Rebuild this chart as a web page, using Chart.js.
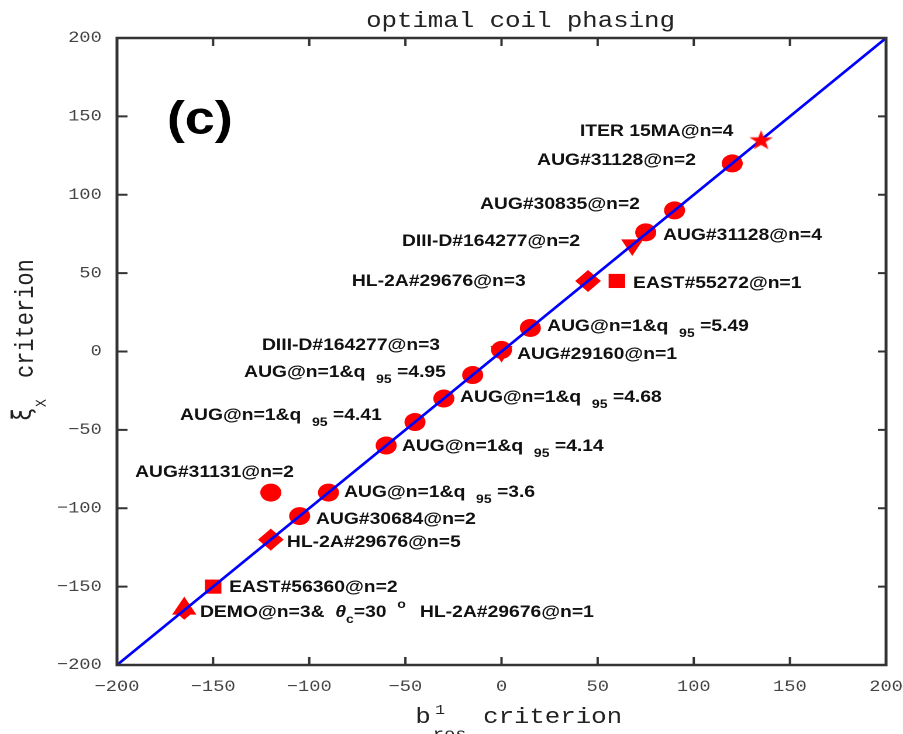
<!DOCTYPE html>
<html>
<head>
<meta charset="utf-8">
<script src="https://cdn.jsdelivr.net/npm/chart.js@4.4.1/dist/chart.umd.min.js"></script>
<style>
  html, body { margin: 0; padding: 0; background: #fff; overflow: hidden; }
  /* the source figure is stretched horizontally, so is this one */
  #wrap { width: 772px; height: 734px; transform: scaleX(1.1697); transform-origin: 0 0; }
</style>
</head>
<body>
<div id="wrap"><canvas id="chart" width="772" height="734"></canvas></div>
<script>
const axisMin = -200;
const axisMax = 200;
const axisStep = 50;

// y = x reference line
const diagX = [-200, 200];
const diagY = [-200, 200];

// AUG shots (filled circles)
const circleX = [120, 90, 75, 15, 0, -15, -30, -45, -60, -90, -105, -120];
const circleY = [120, 90, 76, 15, 1, -15, -30, -45, -60, -90, -105, -90];
// HL-2A (diamonds)
const diamondX = [45, -120, -165];
const diamondY = [45, -120, -166];
// EAST (squares)
const squareX = [60, -150];
const squareY = [45, -150];
// DEMO (triangle up)
const triUpX = [-165];
const triUpY = [-164];
// DIII-D (triangle down)
const triDownX = [68, 0];
const triDownY = [68, 0];
// ITER (star)
const starX = [135];
const starY = [135];

// annotations, anchored in data units (left edge, text middle)
const labelText = [
    "ITER 15MA@n=4",
    "AUG#31128@n=2",
    "AUG#30835@n=2",
    "AUG#31128@n=4",
    "DIII-D#164277@n=2",
    "HL-2A#29676@n=3",
    "EAST#55272@n=1",
    "AUG@n=1&q  _{95} =5.49",
    "DIII-D#164277@n=3",
    "AUG#29160@n=1",
    "AUG@n=1&q  _{95} =4.95",
    "AUG@n=1&q  _{95} =4.68",
    "AUG@n=1&q  _{95} =4.41",
    "AUG@n=1&q  _{95} =4.14",
    "AUG#31131@n=2",
    "AUG@n=1&q  _{95} =3.6",
    "AUG#30684@n=2",
    "HL-2A#29676@n=5",
    "EAST#56360@n=2",
    "DEMO@n=3&  *{θ}_{c}=30  ^{o}",
    "HL-2A#29676@n=1",
];
const labelX = [40.8, 18.5, -11.2, 84, -51.8, -77.8, 68.4, 23.7, -124.6, 8.1, -133.9,
    -21.6, -167.2, -51.8, -190.6, -81.9, -96.5, -111.6, -141.7, -156.8, -42.4];
const labelY = [141.3, 122.8, 94.7, 75, 71.1, 45.6, 44.3, 16.9, 4.8, -1, -12.4,
    -28.4, -39.9, -59.6, -76.2, -89, -106.2, -120.9, -149.6, -165.6, -165.6];

const panelTag = "(c)";
const panelX = -174;
const panelY = 139;

const pts = (xs, ys) => xs.map((v, i) => ({ x: v, y: ys[i] }));

// filled five point star for ITER
const star = document.createElement("canvas");
star.width = 24;
star.height = 24;
(() => {
    const c = star.getContext("2d");
    const R = 10.5, r = 4.2, cx = 12, cy = 12.8;
    c.fillStyle = "#ff0000";
    c.beginPath();
    for (let k = 0; k < 10; k++) {
        const rad = k % 2 ? r : R;
        const ang = -Math.PI / 2 + (k * Math.PI) / 5;
        c.lineTo(cx + rad * Math.cos(ang), cy + rad * Math.sin(ang));
    }
    c.closePath();
    c.fill();
})();

function richText(ctx, str, x, y, size) {
    const parts = str.split(/(_\{[^}]*\}|\^\{[^}]*\}|\*\{[^}]*\})/).filter((s) => s);
    let cx = x;
    parts.forEach((p) => {
        let t = p, fs = size, dy = 0, style = "bold ";
        if (p[0] === "_" && p[1] === "{") { t = p.slice(2, -1); fs = 12; dy = 6; }
        else if (p[0] === "^" && p[1] === "{") { t = p.slice(2, -1); fs = 12; dy = -9; }
        else if (p[0] === "*" && p[1] === "{") { t = p.slice(2, -1); style = "italic bold "; }
        ctx.font = style + fs + 'px "Liberation Sans", Arial, sans-serif';
        ctx.fillText(t, cx, y + dy);
        cx += ctx.measureText(t).width;
    });
}

const decor = {
    id: "decor",
    afterDraw(chart) {
        const { ctx, chartArea: a, scales: { x, y } } = chart;
        ctx.save();

        // inward ticks on all four sides
        ctx.strokeStyle = "#333";
        ctx.lineWidth = 2;
        ctx.beginPath();
        x.ticks.forEach((t) => {
            const px = x.getPixelForValue(t.value);
            ctx.moveTo(px, a.bottom);
            ctx.lineTo(px, a.bottom - 8);
            ctx.moveTo(px, a.top);
            ctx.lineTo(px, a.top + 8);
        });
        y.ticks.forEach((t) => {
            const py = y.getPixelForValue(t.value);
            ctx.moveTo(a.left, py);
            ctx.lineTo(a.left + 9, py);
            ctx.moveTo(a.right, py);
            ctx.lineTo(a.right - 7, py);
        });
        ctx.stroke();
        ctx.lineWidth = 2.5;
        ctx.strokeRect(a.left, a.top, a.right - a.left, a.bottom - a.top);

        // title
        ctx.fillStyle = "#222";
        ctx.textBaseline = "alphabetic";
        ctx.textAlign = "center";
        ctx.font = '22px "Liberation Mono", monospace';
        ctx.fillText("optimal coil phasing", 445, 27);

        // x axis title: b^1_res criterion
        ctx.textAlign = "left";
        ctx.fillText("b", 355, 723);
        ctx.font = '14px "Liberation Mono", monospace';
        ctx.fillText("1", 372, 714);
        ctx.font = '16px "Liberation Mono", monospace';
        ctx.fillText("res", 370, 739);
        ctx.font = '22px "Liberation Mono", monospace';
        ctx.fillText("criterion", 413, 723);

        // y axis title: xi_X criterion
        ctx.save();
        ctx.translate(28, 421);
        ctx.rotate(-Math.PI / 2);
        ctx.font = '22px "DejaVu Sans Mono", monospace';
        ctx.fillText("ξ", 0, -2);
        ctx.font = '13px "Liberation Mono", monospace';
        ctx.fillText("X", 14, 11);
        ctx.font = '22px "Liberation Mono", monospace';
        ctx.fillText("criterion", 43, 0);
        ctx.restore();

        // panel tag
        ctx.fillStyle = "#000";
        ctx.font = 'bold 46px "Liberation Sans", Arial, sans-serif';
        ctx.fillText(panelTag, x.getPixelForValue(panelX), y.getPixelForValue(panelY));

        // point annotations
        ctx.fillStyle = "#111";
        labelText.forEach((s, i) => {
            richText(ctx, s, x.getPixelForValue(labelX[i]), y.getPixelForValue(labelY[i]) + 6, 16.5);
        });
        ctx.restore();
    },
};

const red = "#ff0000";
const marker = (data, style, radius, rotation) => ({
    type: "scatter",
    data,
    pointStyle: style,
    pointRadius: radius,
    pointRotation: rotation || 0,
    backgroundColor: red,
    borderColor: red,
    borderWidth: 0,
});

const tickFont = { family: '"Liberation Mono", "DejaVu Sans Mono", monospace', size: 16 };
const tickText = (v) => String(v).replace("-", "\u2212");

// first dataset ends up on top
new Chart(document.getElementById("chart"), {
    type: "scatter",
    data: {
        datasets: [
            marker(pts(starX, starY), star, 10),
            {
                type: "line",
                data: pts(diagX, diagY),
                borderColor: "#0000ff",
                borderWidth: 2.5,
                pointRadius: 0,
                fill: false,
            },
            marker(pts(triUpX, triUpY), "triangle", 12),
            marker(pts(triDownX, triDownY), "triangle", 11, 180),
            marker(pts(circleX, circleY), "circle", 9),
            marker(pts(diamondX, diamondY), "rectRot", [11, 11, 8]),
            marker(pts(squareX, squareY), "rect", 10),
        ],
    },
    options: {
        responsive: false,
        animation: false,
        devicePixelRatio: 2,
        layout: { padding: { top: 38, right: 14.5, left: 0, bottom: 0 } },
        plugins: {
            legend: { display: false },
            tooltip: { enabled: false },
            title: { display: false },
        },
        scales: {
            x: {
                type: "linear",
                min: axisMin,
                max: axisMax,
                grid: { display: false, drawTicks: false },
                border: { display: false },
                ticks: { stepSize: axisStep, font: tickFont, color: "#444", padding: 12, maxRotation: 0, callback: tickText },
                afterFit(s) {
                    s.height = 69;
                    s.paddingLeft = 0;
                    s.paddingRight = 0;
                },
            },
            y: {
                type: "linear",
                min: axisMin,
                max: axisMax,
                grid: { display: false, drawTicks: false },
                border: { display: false },
                ticks: { stepSize: axisStep, font: tickFont, color: "#444", padding: 13, callback: tickText },
                afterFit(s) {
                    s.width = 100;
                    s.paddingTop = 0;
                    s.paddingBottom = 0;
                },
            },
        },
    },
    plugins: [decor],
});
</script>
</body>
</html>
